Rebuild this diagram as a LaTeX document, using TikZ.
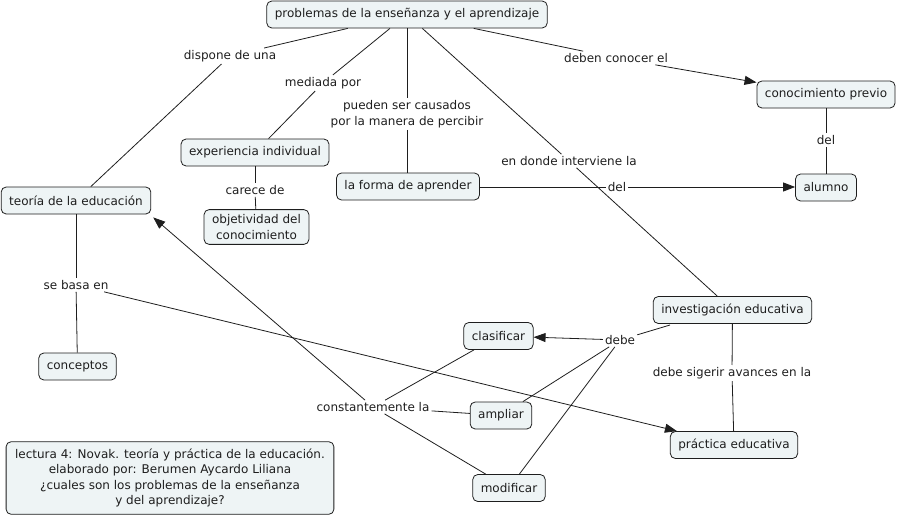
\documentclass[tikz,border=0pt]{standalone}
\usepackage{fontspec}
\setmainfont{DejaVu Sans}
\usetikzlibrary{arrows.meta}
\definecolor{boxfill}{RGB}{238,244,245}
\definecolor{ink}{RGB}{30,30,30}
\begin{document}
\begin{tikzpicture}[x=1pt,y=-1pt,
  every node/.style={font=\fontsize{12}{15.5}\selectfont, text=ink},
  concept/.style={draw=ink, line width=0.8pt, rounded corners=5pt, fill=boxfill,
    inner xsep=8pt, inner ysep=5pt, minimum height=27pt, align=center},
  linklabel/.style={inner sep=2pt, align=center},
  conn/.style={draw=ink, line width=0.8pt},
  arr/.style={conn, -{Triangle[length=12pt,width=9pt]}}]
\useasboundingbox (0,0) rectangle (900,517);

% concepts
\node[concept] (prob) at (407,14.5) {problemas de la enseñanza y el aprendizaje};
\node[concept] (conprev) at (826,94.5) {conocimiento previo};
\node[concept] (alumno) at (826,187.5) {alumno};
\node[concept] (exper) at (255,152.5) {experiencia individual};
\node[concept] (objet) at (256.5,227) {objetividad del\\conocimiento};
\node[concept] (forma) at (408,186.5) {la forma de aprender};
\node[concept] (teoria) at (76,200.5) {teoría de la educación};
\node[concept] (concep) at (77.5,366.5) {conceptos};
\node[concept] (invest) at (732.5,310) {investigación educativa};
\node[concept] (clasif) at (498.5,336) {clasificar};
\node[concept] (ampliar) at (501,415.5) {ampliar};
\node[concept] (practica) at (734,445) {práctica educativa};
\node[concept] (modif) at (509,488) {modificar};
\node[concept, inner xsep=9pt, inner ysep=7pt] (lectura) at (170,478) {lectura 4: Novak. teoría y práctica de la educación.\\elaborado por: Berumen Aycardo Liliana\\¿cuales son los problemas de la enseñanza\\y del aprendizaje?};

% linking phrases
\node[linklabel] (dispone) at (230,56) {dispone de una};
\node[linklabel] (mediada) at (323,83) {mediada por};
\node[linklabel] (pueden) at (407,114) {pueden ser causados\\por la manera de percibir};
\node[linklabel] (deben) at (616,58) {deben conocer el};
\node[linklabel] (del1) at (826,140) {del};
\node[linklabel] (donde) at (569,161) {en donde interviene la};
\node[linklabel] (del2) at (617,187) {del};
\node[linklabel] (carece) at (255,190) {carece de};
\node[linklabel] (basa) at (76,285) {se basa en};
\node[linklabel] (constante) at (373,407) {constantemente la};
\node[linklabel] (debe) at (620,340) {debe};
\node[linklabel] (sigerir) at (732,373) {debe sigerir avances en la};

% special anchor points
\coordinate (teoriaTip) at ([xshift=2pt,yshift=-3pt]teoria.south east);
\coordinate (investOut) at (670,325);

% connectors
\draw[conn] (prob) -- (dispone);
\draw[conn] (dispone) -- (teoria);
\draw[conn] (prob) -- (mediada);
\draw[conn] (mediada) -- (exper);
\draw[conn] (prob.south -| pueden) -- (pueden);
\draw[conn] (pueden) -- (forma.north -| pueden);
\draw[conn] (prob) -- (donde);
\draw[conn] (donde) -- (invest);
\draw[conn] (prob) -- (deben);
\draw[arr] (deben) -- (conprev);
\draw[conn] (conprev) -- (del1);
\draw[conn] (del1) -- (alumno);
\draw[conn] (forma.east |- del2) -- (del2);
\draw[arr] (del2) -- (alumno.west |- del2);
\draw[conn] (exper) -- (carece);
\draw[conn] (carece) -- (objet);
\draw[conn] (teoria) -- (basa);
\draw[conn] (basa) -- (concep);
\draw[arr] (basa) -- (practica);
\draw[conn] (invest) -- (sigerir);
\draw[conn] (sigerir) -- (practica);
\draw[conn] (investOut) -- (debe);
\draw[arr] (debe) -- (clasif);
\draw[conn] (debe) -- (ampliar);
\draw[conn] (debe) -- (modif);
\draw[conn] (constante) -- (clasif);
\draw[conn] (constante) -- (ampliar);
\draw[conn] (constante) -- (modif);
\draw[arr] (constante) -- (teoriaTip);
\end{tikzpicture}
\end{document}
